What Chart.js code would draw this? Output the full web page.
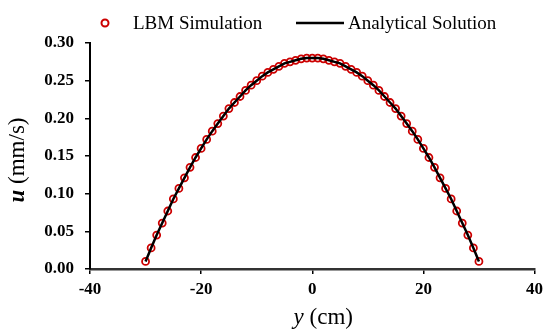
<!DOCTYPE html>
<html>
<head>
<meta charset="utf-8">
<script src="https://cdn.jsdelivr.net/npm/chart.js@4.4.1/dist/chart.umd.min.js"></script>
<style>
html,body{margin:0;padding:0;background:#fff;}
#wrap{width:548px;height:329px;}
</style>
</head>
<body>
<div id="wrap"><canvas id="c" width="548" height="329"></canvas></div>
<script>
// Positions across the channel (cm)
const positions = [-30,-29,-28,-27,-26,-25,-24,-23,-22,-21,-20,-19,-18,-17,-16,-15,-14,-13,-12,-11,-10,-9,-8,-7,-6,-5,-4,-3,-2,-1,0,1,2,3,4,5,6,7,8,9,10,11,12,13,14,15,16,17,18,19,20,21,22,23,24,25,26,27,28,29,30];
// LBM simulation velocity (mm/s)
const lbmValues = [0.010,0.028,0.045,0.061,0.077,0.093,0.107,0.121,0.135,0.148,0.160,0.172,0.183,0.193,0.203,0.213,0.221,0.229,0.237,0.244,0.250,0.256,0.261,0.265,0.269,0.273,0.275,0.277,0.279,0.280,0.280,0.280,0.279,0.277,0.275,0.273,0.269,0.265,0.261,0.256,0.250,0.244,0.237,0.229,0.221,0.213,0.203,0.193,0.183,0.172,0.160,0.148,0.135,0.121,0.107,0.093,0.077,0.061,0.045,0.028,0.010];
// Analytical solution velocity (mm/s)
const analyticalValues = [0.010,0.028,0.045,0.061,0.077,0.093,0.107,0.121,0.135,0.148,0.160,0.172,0.183,0.193,0.203,0.213,0.221,0.229,0.237,0.244,0.250,0.256,0.261,0.265,0.269,0.273,0.275,0.277,0.279,0.280,0.280,0.280,0.279,0.277,0.275,0.273,0.269,0.265,0.261,0.256,0.250,0.244,0.237,0.229,0.221,0.213,0.203,0.193,0.183,0.172,0.160,0.148,0.135,0.121,0.107,0.093,0.077,0.061,0.045,0.028,0.010];
const seriesNames = ['LBM Simulation','Analytical Solution'];
const xTicks = [-40,-20,0,20,40];
const yTicks = [0,0.05,0.10,0.15,0.20,0.25,0.30];

const SERIF = "'Liberation Serif','Times New Roman',serif";

const customDraw = {
  id: 'customDraw',
  afterDraw(chart) {
    const ctx = chart.ctx;
    const ca = chart.chartArea;
    ctx.save();
    // Legend
    const ly = 23;
    const dsL = chart.data.datasets[1];
    const dsA = chart.data.datasets[0];
    ctx.beginPath();
    ctx.arc(105, ly, 3.5, 0, Math.PI * 2);
    ctx.strokeStyle = dsL.pointBorderColor;
    ctx.lineWidth = 2;
    ctx.stroke();
    ctx.fillStyle = '#000';
    ctx.font = '19px ' + SERIF;
    ctx.textBaseline = 'middle';
    ctx.textAlign = 'left';
    ctx.fillText(seriesNames[0], 133, ly + 1);
    ctx.beginPath();
    ctx.moveTo(296, ly);
    ctx.lineTo(344, ly);
    ctx.strokeStyle = dsA.borderColor;
    ctx.lineWidth = 2.5;
    ctx.stroke();
    ctx.fillText(seriesNames[1], 348, ly + 1);

    // X-axis title: "y (cm)" with italic y
    const cx = (ca.left + ca.right) / 2 + 11;
    const ty = 318;
    ctx.font = 'italic 23px ' + SERIF;
    const w1 = ctx.measureText('y').width;
    ctx.font = '23px ' + SERIF;
    const w2 = ctx.measureText(' (cm)').width;
    let sx = cx - (w1 + w2) / 2;
    ctx.textAlign = 'left';
    ctx.font = 'italic 23px ' + SERIF;
    ctx.fillText('y', sx, ty);
    ctx.font = '23px ' + SERIF;
    ctx.fillText(' (cm)', sx + w1, ty);

    // Y-axis title: "u (mm/s)" with bold italic u
    ctx.translate(18, (ca.top + ca.bottom) / 2 + 4);
    ctx.rotate(-Math.PI / 2);
    ctx.font = 'bold italic 23px ' + SERIF;
    const v1 = ctx.measureText('u').width;
    ctx.font = '23px ' + SERIF;
    const v2 = ctx.measureText(' (mm/s)').width;
    sx = -(v1 + v2) / 2;
    ctx.font = 'bold italic 23px ' + SERIF;
    ctx.fillText('u', sx, 0);
    ctx.font = '23px ' + SERIF;
    ctx.fillText(' (mm/s)', sx + v1, 0);
    ctx.restore();
  }
};

new Chart(document.getElementById('c'), {
  type: 'scatter',
  data: {
    datasets: [
      {
        label: seriesNames[1],
        data: positions.map((p, i) => ({x: p, y: analyticalValues[i]})),
        showLine: true,
        borderColor: '#000000',
        borderWidth: 2.5,
        pointRadius: 0,
        pointHoverRadius: 0,
        tension: 0,
        fill: false
      },
      {
        label: seriesNames[0],
        data: positions.map((p, i) => ({x: p, y: lbmValues[i]})),
        showLine: false,
        pointStyle: 'circle',
        pointRadius: 3.5,
        pointBorderWidth: 1.8,
        pointBorderColor: '#cc0000',
        pointBackgroundColor: 'rgba(255,255,255,0)'
      }
    ]
  },
  options: {
    responsive: false,
    animation: false,
    devicePixelRatio: 1,
    layout: { padding: { top: 43, right: 11, left: 0, bottom: 0 } },
    plugins: { legend: { display: false }, tooltip: { enabled: false } },
    scales: {
      x: {
        type: 'linear',
        min: -40, max: 40,
        afterBuildTicks(scale) { scale.ticks = xTicks.map(v => ({value: v})); },
        afterFit(scale) { scale.height = 60; },
        ticks: {
          color: '#000',
          font: { family: SERIF, size: 17, weight: 'bold' },
          padding: 5,
          maxRotation: 0,
          callback: v => String(v)
        },
        grid: { drawOnChartArea: false, drawTicks: true, tickLength: 5, color: '#000', lineWidth: 1.5 },
        border: { color: '#333', width: 2.5, dash: [2, 1] }
      },
      y: {
        type: 'linear',
        min: 0, max: 0.3,
        afterBuildTicks(scale) { scale.ticks = yTicks.map(v => ({value: v})); },
        afterFit(scale) { scale.width = 90; },
        ticks: {
          color: '#000',
          font: { family: SERIF, size: 17, weight: 'bold' },
          padding: 11,
          callback: v => Number(v).toFixed(2)
        },
        grid: { drawOnChartArea: false, drawTicks: true, tickLength: 5, color: '#000', lineWidth: 1.5 },
        border: { color: '#000', width: 2 }
      }
    }
  },
  plugins: [customDraw]
});
</script>
</body>
</html>
